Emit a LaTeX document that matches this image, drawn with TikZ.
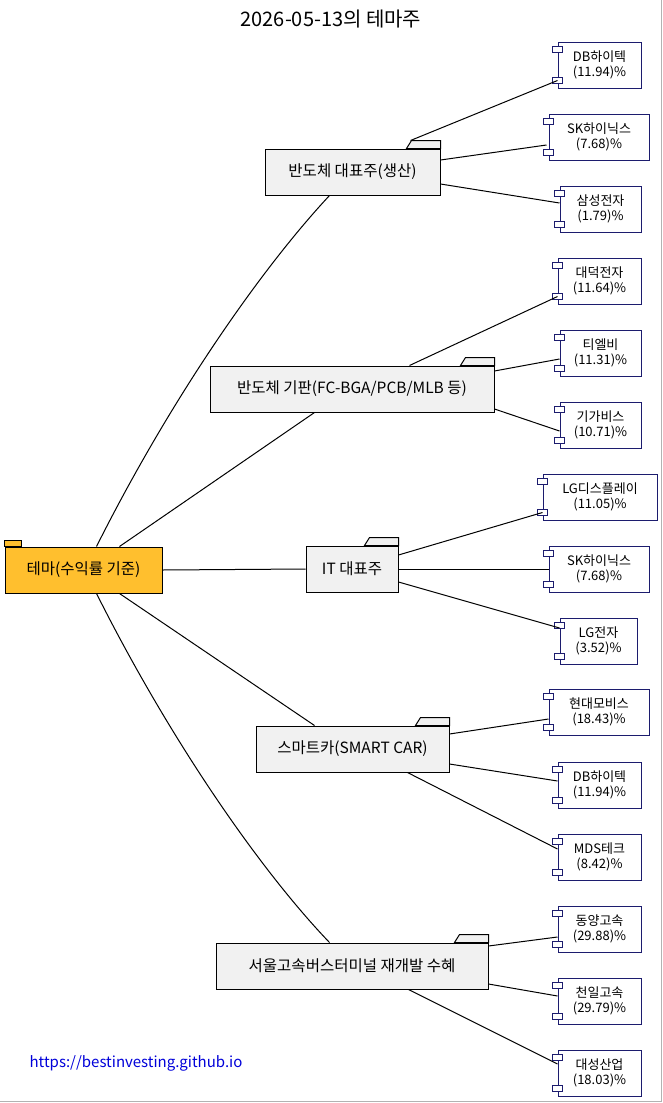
\documentclass[tikz,border=0pt]{standalone}
\usepackage{fontspec}
\setmainfont{Noto Sans CJK KR}
\usetikzlibrary{positioning}
\definecolor{rootfill}{HTML}{FFBF2E}
\definecolor{themefill}{HTML}{F1F1F1}
\definecolor{leafline}{HTML}{1C1C6E}
\newcommand{\foldtab}[1]{%
  \filldraw[fill=themefill, line width=1pt] ($(#1.north east)+(-34,0)$) -- ++(5,-8) -- ($(#1.north east)+(0,-8)$) -- (#1.north east) -- cycle;}
\newcommand{\leafpins}[1]{%
  \filldraw[leafline, fill=white, line width=1pt] ($(#1.north west)+(-5,5)$) rectangle ++(10,6);
  \filldraw[leafline, fill=white, line width=1pt] ($(#1.south west)+(-5,-5)$) rectangle ++(10,-6);}
\usetikzlibrary{calc}
\begin{document}
\begin{tikzpicture}[
          x=1pt, y=-1pt,
          theme/.style = {draw, line width=1pt, fill=themefill, minimum height=46pt, inner sep=2pt, font=\fontsize{15.5}{18}\selectfont},
          leaf/.style = {draw=leafline, line width=1pt, fill=white, minimum height=46pt, align=center, inner sep=1pt, font=\fontsize{13}{15}\selectfont},
          edge/.style = {line width=1pt}
         ]
        \useasboundingbox (0,0) rectangle (663,1103);
        \draw[gray!60] (661,0) -- (661,1101) -- (0,1101);

        % title
        \node[font=\fontsize{20}{24}\selectfont] (title) at (331,19) {2026-05-13의 테마주};

        % root
        \node[theme, fill=rootfill, minimum width=157pt] (root) at (83.5,570) {테마(수익률 기준)};
        \filldraw[fill=rootfill, line width=1pt] (root.north west) rectangle ++(17,-6);

        % themes
        \node[theme, minimum width=175pt] (t1) at (352.5,172) {반도체 대표주(생산)};
        \node[theme, minimum width=284pt] (t2) at (352,389) {반도체 기판(FC-BGA/PCB/MLB 등)};
        \node[theme, minimum width=92pt] (t3) at (352,569) {IT 대표주};
        \node[theme, minimum width=193pt] (t4) at (352.5,749) {스마트카(SMART CAR)};
        \node[theme, minimum width=272pt] (t5) at (352,966) {서울고속버스터미널 재개발 수혜};
        \foreach \t in {t1,t2,t3,t4,t5} {\foldtab{\t}}

        % leaves
        \node[leaf, minimum width=83pt] (l1) at (599.5,65) {DB하이텍\\(11.94)\%};
        \node[leaf, minimum width=100pt] (l2) at (599,137) {SK하이닉스\\(7.68)\%};
        \node[leaf, minimum width=81pt] (l3) at (600.5,209) {삼성전자\\(1.79)\%};
        \node[leaf, minimum width=83pt] (l4) at (599.5,281) {대덕전자\\(11.64)\%};
        \node[leaf, minimum width=81pt] (l5) at (600.5,353) {티엘비\\(11.31)\%};
        \node[leaf, minimum width=81pt] (l6) at (600.5,425) {기가비스\\(10.71)\%};
        \node[leaf, minimum width=114pt] (l7) at (600,497) {LG디스플레이\\(11.05)\%};
        \node[leaf, minimum width=100pt] (l8) at (599,569) {SK하이닉스\\(7.68)\%};
        \node[leaf, minimum width=77pt] (l9) at (598.5,641) {LG전자\\(3.52)\%};
        \node[leaf, minimum width=100pt] (l10) at (599,712) {현대모비스\\(18.43)\%};
        \node[leaf, minimum width=83pt] (l11) at (599.5,785) {DB하이텍\\(11.94)\%};
        \node[leaf, minimum width=83pt] (l12) at (599.5,857) {MDS테크\\(8.42)\%};
        \node[leaf, minimum width=83pt] (l13) at (599.5,929) {동양고속\\(29.88)\%};
        \node[leaf, minimum width=83pt] (l14) at (599.5,1001) {천일고속\\(29.79)\%};
        \node[leaf, minimum width=83pt] (l15) at (599.5,1073) {대성산업\\(18.03)\%};
        \foreach \l in {l1,l2,l3,l4,l5,l6,l7,l8,l9,l10,l11,l12,l13,l14,l15} {\leafpins{\l}}

        % root -> themes
        \draw[edge] ($(root.north west)+(92,0)$) .. controls (170,400) and (260,270) .. ($(t1.south west)+(65,0)$);
        \draw[edge] ($(root.north west)+(115,0)$) -- ($(t2.south west)+(105,0)$);
        \draw[edge] (root.east) -- (t3.west);
        \draw[edge] ($(root.south west)+(115,0)$) -- ($(t4.north west)+(59,0)$);
        \draw[edge] ($(root.south west)+(92,0)$) .. controls (170,740) and (260,870) .. ($(t5.north west)+(114,0)$);

        % themes -> leaves
        \draw[edge] ($(t1.north east)+(-30,-8)$) -- ($(l1.south west)+(0,-8)$);
        \draw[edge] ($(t1.east)+(0,-12)$) -- ($(l2.west)+(-2,8)$);
        \draw[edge] ($(t1.east)+(0,12)$) -- ($(l3.west)+(0,-6)$);
        \draw[edge] ($(t2.north east)+(-85,0)$) -- ($(l4.south west)+(0,-8)$);
        \draw[edge] ($(t2.east)+(0,-18)$) -- ($(l5.west)+(0,6)$);
        \draw[edge] ($(t2.east)+(0,20)$) -- ($(l6.west)+(0,6)$);
        \draw[edge] ($(t3.east)+(0,-14)$) -- ($(l7.south west)+(0,-8)$);
        \draw[edge] (t3.east) -- (l8.west);
        \draw[edge] ($(t3.east)+(0,13)$) -- ($(l9.west)+(0,-13)$);
        \draw[edge] ($(t4.east)+(0,-15)$) -- ($(l10.west)+(0,7)$);
        \draw[edge] ($(t4.east)+(0,15)$) -- ($(l11.west)+(0,-4)$);
        \draw[edge] ($(t4.south east)+(-42,0)$) -- ($(l12.west)+(0,-8)$);
        \draw[edge] ($(t5.east)+(0,-20)$) -- ($(l13.west)+(0,8)$);
        \draw[edge] ($(t5.east)+(0,18)$) -- ($(l14.west)+(0,-5)$);
        \draw[edge] ($(t5.south east)+(-80,0)$) -- ($(l15.west)+(0,-9)$);

        % link
        \node[text=blue!85!black, font=\fontsize{15}{17}\selectfont] (link) at (136,1063) {https://bestinvesting.github.io};
\end{tikzpicture}
\end{document}
